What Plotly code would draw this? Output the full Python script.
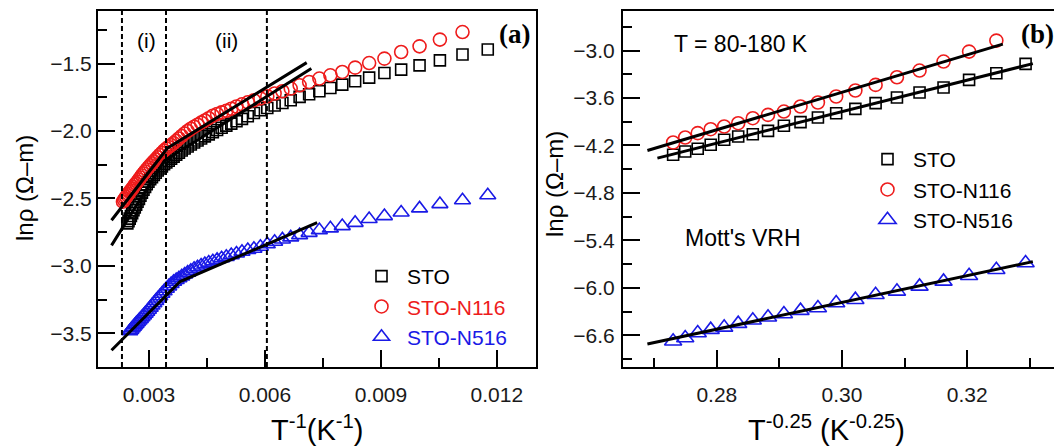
import numpy as np
import plotly.graph_objects as go

# ---------------- data: panel (a)  ln(rho) vs 1/T ----------------
T_sto_a = list(range(85, 411, 5))
lnrho_sto_a = [-1.396, -1.433, -1.476, -1.513, -1.545, -1.570, -1.604, -1.631, -1.656, -1.681,
               -1.705, -1.727, -1.747, -1.772, -1.792, -1.811, -1.829, -1.846, -1.866, -1.890,
               -1.910, -1.928, -1.945, -1.960, -1.976, -1.993, -2.008, -2.025, -2.040, -2.055,
               -2.070, -2.085, -2.100, -2.115, -2.130, -2.145, -2.160, -2.175, -2.190, -2.205,
               -2.220, -2.233, -2.247, -2.262, -2.278, -2.293, -2.310, -2.325, -2.342, -2.358,
               -2.376, -2.395, -2.415, -2.436, -2.457, -2.480, -2.503, -2.525, -2.547, -2.567,
               -2.588, -2.610, -2.630, -2.650, -2.668, -2.685]

T_n116_a = list(range(90, 431, 5))
lnrho_n116_a = [-1.266, -1.322, -1.372, -1.414, -1.463, -1.496, -1.530, -1.562, -1.587, -1.611,
                -1.636, -1.661, -1.685, -1.705, -1.722, -1.742, -1.758, -1.772, -1.787, -1.802,
                -1.818, -1.835, -1.850, -1.862, -1.874, -1.887, -1.905, -1.922, -1.938, -1.953,
                -1.968, -1.983, -2.000, -2.018, -2.037, -2.055, -2.073, -2.090, -2.105, -2.118,
                -2.130, -2.145, -2.162, -2.178, -2.194, -2.210, -2.225, -2.240, -2.255, -2.270,
                -2.285, -2.300, -2.315, -2.330, -2.345, -2.360, -2.375, -2.388, -2.400, -2.415,
                -2.428, -2.440, -2.452, -2.465, -2.476, -2.488, -2.500, -2.512, -2.524]

T_n516_a = list(range(85, 401, 5))
lnrho_n516_a = [-2.476, -2.513, -2.542, -2.574, -2.604, -2.631, -2.653, -2.681, -2.705, -2.722,
                -2.735, -2.755, -2.772, -2.789, -2.804, -2.821, -2.839, -2.858, -2.873, -2.882,
                -2.895, -2.908, -2.920, -2.933, -2.944, -2.955, -2.966, -2.976, -2.986, -2.997,
                -3.010, -3.022, -3.036, -3.050, -3.064, -3.078, -3.092, -3.105, -3.118, -3.135,
                -3.152, -3.170, -3.188, -3.207, -3.225, -3.242, -3.260, -3.277, -3.293, -3.310,
                -3.325, -3.340, -3.354, -3.368, -3.381, -3.393, -3.405, -3.416, -3.428, -3.440,
                -3.452, -3.463, -3.474, -3.485]

# region boundaries (dashed lines), 1/T
region_bounds = [0.0023, 0.00344, 0.00605]

# two-segment Arrhenius fits (regions i and ii): order STO-N116, STO, STO-N516
fit_a_slope_i = [370.0, 459.0, 287.0]
fit_a_icpt_i = [-3.413, -3.780, -4.208]
fit_a_slope_ii = [176.0, 180.0, 123.0]
fit_a_icpt_ii = [-2.739, -2.833, -3.584]
fit_a_xstart = [0.00203, 0.00203, 0.00203]
fit_a_xend = [0.00708, 0.00720, 0.00735]

# ---------------- data: panel (b)  ln(rho) vs T^-0.25 (80-180 K) ----------------
T_sto_b = list(range(180, 84, -5))
lnrho_sto_b = [-4.318, -4.276, -4.242, -4.191, -4.128, -4.086, -4.057, -4.015, -3.951, -3.905,
               -3.846, -3.792, -3.737, -3.665, -3.594, -3.531, -3.467, -3.371, -3.286, -3.168]
T_n116_b = list(range(180, 89, -5))
lnrho_n116_b = [-4.162, -4.099, -4.044, -3.994, -3.960, -3.918, -3.855, -3.813, -3.771, -3.707,
                -3.657, -3.581, -3.505, -3.434, -3.337, -3.253, -3.139, -3.013, -2.874]
T_n516_b = list(range(180, 84, -5))
lnrho_n516_b = [-6.675, -6.633, -6.570, -6.528, -6.499, -6.452, -6.410, -6.372, -6.330, -6.288,
                -6.254, -6.191, -6.149, -6.086, -6.044, -5.981, -5.918, -5.846, -5.770, -5.686]
# extent of Mott VRH fit lines: order STO, STO-N116, STO-N516
fit_b_xstart = [0.2705, 0.2689, 0.2689]
fit_b_xend = [0.3305, 0.3257, 0.3305]

series_names = ["STO", "STO-N116", "STO-N516"]
colors = ["black", "#ee1c1c", "#1a1ae6"]
symbols = ["square-open", "circle-open", "triangle-up-open"]

FONT = "Liberation Sans, Arial, sans-serif"
SERIF = "Liberation Serif, Times New Roman, serif"

fig = go.Figure()

# ---------- panel (a) ----------
a_sets = [(T_sto_a, lnrho_sto_a), (T_n116_a, lnrho_n116_a), (T_n516_a, lnrho_n516_a)]
a_sizes = [11, 13, 14]
for i, (T, y) in enumerate(a_sets):
    x = 1.0 / np.array(T, dtype=float)
    fig.add_trace(go.Scatter(
        x=x, y=y, mode="markers", xaxis="x", yaxis="y",
        name=f"<span style='color:{colors[i]}'>{series_names[i]}</span>",
        marker=dict(symbol=symbols[i], size=a_sizes[i], color=colors[i], line=dict(width=1.6, color=colors[i])),
        legend="legend"))

for k in range(3):
    a1, b1 = fit_a_slope_i[k], fit_a_icpt_i[k]
    a2, b2 = fit_a_slope_ii[k], fit_a_icpt_ii[k]
    xk = (b2 - b1) / (a1 - a2)
    xs = np.array([fit_a_xstart[k], xk, fit_a_xend[k]])
    ys = np.minimum(a1 * xs + b1, a2 * xs + b2)
    fig.add_trace(go.Scatter(x=xs, y=ys, mode="lines", xaxis="x", yaxis="y",
                             line=dict(color="black", width=3), showlegend=False))

# ---------- panel (b) ----------
b_sets = [(T_sto_b, lnrho_sto_b), (T_n116_b, lnrho_n116_b), (T_n516_b, lnrho_n516_b)]
b_sizes = [11, 13, 15]
for i, (T, y) in enumerate(b_sets):
    x = np.array(T, dtype=float) ** -0.25
    fig.add_trace(go.Scatter(
        x=x, y=y, mode="markers", xaxis="x2", yaxis="y2", name=series_names[i],
        marker=dict(symbol=symbols[i], size=b_sizes[i], color=colors[i], line=dict(width=1.6, color=colors[i])),
        legend="legend2"))
for i, (T, y) in enumerate(b_sets):
    x = np.array(T, dtype=float) ** -0.25
    p = np.polyfit(x, y, 1)
    xs = np.array([fit_b_xstart[i], fit_b_xend[i]])
    fig.add_trace(go.Scatter(x=xs, y=np.polyval(p, xs), mode="lines", xaxis="x2", yaxis="y2",
                             line=dict(color="black", width=3), showlegend=False))

# dashed region boundaries
for xb in region_bounds:
    fig.add_shape(type="line", xref="x", yref="y domain", x0=xb, x1=xb, y0=0, y1=1,
                  line=dict(color="black", width=2, dash="5px,3px"))

# the page body has an 8px default margin: lay out in page pixels minus that offset
OFF = 8
W, H = 1062 - OFF, 446 - OFF
def px(xp):
    return (xp - OFF) / W
def py(yp):
    return 1 - (yp - OFF) / H

axis_common = dict(showline=True, mirror=True, linecolor="black", linewidth=2,
                   ticks="inside", ticklen=17, tickwidth=2, tickcolor="black",
                   showgrid=False, zeroline=False,
                   tickfont=dict(family=FONT, size=21, color="#1a1a1a"))
ydom = [py(367), py(11)]

fig.update_layout(
    width=W, height=H, margin=dict(l=0, r=0, t=0, b=0),
    plot_bgcolor="white", paper_bgcolor="white",
    font=dict(family=FONT, color="black"),
    xaxis=dict(domain=[px(98), px(535.5)], range=[0.00168, 0.013], dtick=0.003, tick0=0,
               tickformat=".3f", ticklabelstandoff=8,
               minor=dict(ticks="inside", ticklen=9, tickwidth=2, tickcolor="black", dtick=0.0015),
               anchor="y", **axis_common),
    yaxis=dict(domain=ydom, range=[-3.75, -1.11], dtick=0.5, tick0=0, tickformat=".1f",
               ticklabelstandoff=0,
               minor=dict(ticks="inside", ticklen=9, tickwidth=2, tickcolor="black", dtick=0.25),
               anchor="x", **axis_common),
    xaxis2=dict(domain=[px(623), px(1061)], range=[0.265, 0.335], dtick=0.02, tick0=0,
                tickformat=".2f", ticklabelstandoff=8,
                minor=dict(ticks="inside", ticklen=9, tickwidth=2, tickcolor="black", dtick=0.01),
                anchor="y2", **axis_common),
    yaxis2=dict(domain=ydom, range=[-7.0, -2.5], dtick=0.6, tick0=0, tickformat=".1f",
                ticklabelstandoff=2,
                minor=dict(ticks="inside", ticklen=9, tickwidth=2, tickcolor="black", dtick=0.3),
                anchor="x2", **axis_common),
    legend=dict(x=px(356), y=py(256), xanchor="left", yanchor="top", bgcolor="rgba(0,0,0,0)",
                font=dict(family=FONT, size=21, color="black"), itemwidth=41, tracegroupgap=0),
    legend2=dict(x=px(862), y=py(139), xanchor="left", yanchor="top", bgcolor="rgba(0,0,0,0)",
                 font=dict(family=FONT, size=21, color="black"), itemwidth=41, tracegroupgap=0),
)

def ann(text, x, y, size, family=FONT, angle=0, xanchor="center"):
    fig.add_annotation(text=text, x=px(x), y=py(y), xref="paper", yref="paper",
                       showarrow=False, xanchor=xanchor, yanchor="middle",
                       textangle=angle, font=dict(family=family, size=size, color="black"))

ann("<b>(a)</b>", 532, 34, 27, family=SERIF, xanchor="right")
ann("<b>(b)</b>", 1056, 34, 27, family=SERIF, xanchor="right")
ann("(i)", 146, 41, 21)
ann("(ii)", 226, 41, 21)
ann("T = 80-180 K", 741, 44, 23)
ann("Mott's VRH", 743, 238, 23)
ann("lnρ (Ω–m)", 24, 188, 24, angle=-90)
ann("lnρ (Ω–m)", 554, 184, 24, angle=-90)
ann("T<sup>-1</sup>(K<sup>-1</sup>)", 317, 428, 29)
ann("T<sup>-0.25</sup> (K<sup>-0.25</sup>)", 826, 428, 29)

fig.write_html("out.html")
